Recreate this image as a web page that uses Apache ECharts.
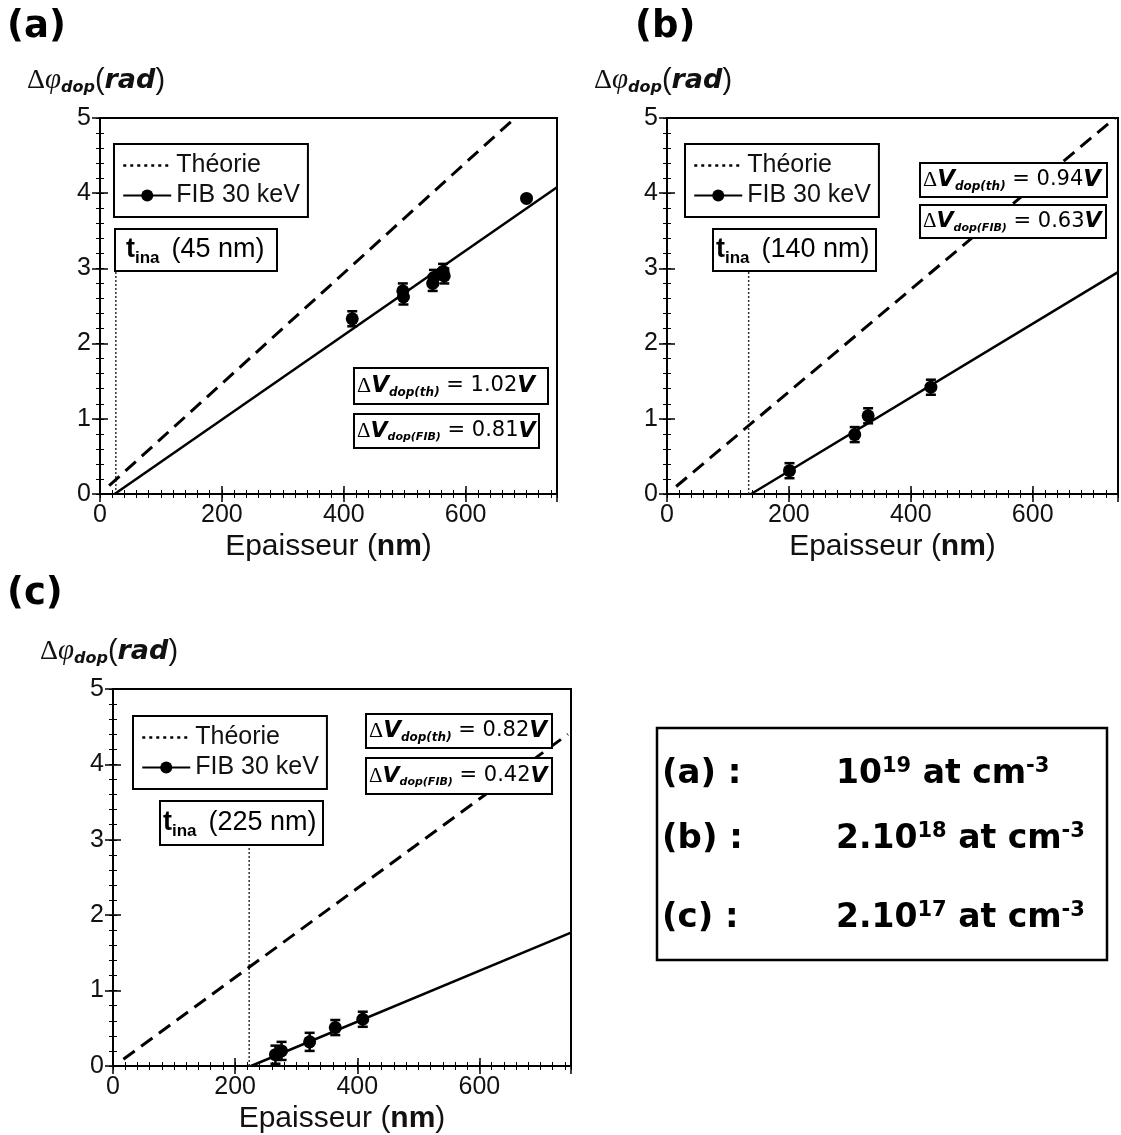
<!DOCTYPE html>
<html><head><meta charset="utf-8">
<script src="https://cdn.jsdelivr.net/npm/echarts@6/dist/echarts.min.js"></script>
<style>html,body{margin:0;padding:0;background:#fff}#c{width:1121px;height:1135px}</style>
</head><body><div id="c"></div>
<script>
// ---------- data ----------
const yTickValues = [0, 1, 2, 3, 4, 5];
const xTickValues = [0, 200, 400, 600];
const seriesNames = ['Théorie', 'FIB 30 keV'];

// panel (a) : 10^19 at cm-3
const aX = [414, 497, 498, 546, 548, 563, 565, 700];
const aY = [2.33, 2.70, 2.62, 2.80, 2.88, 2.96, 2.90, 3.93];
const aErr = [0.1, 0.1, 0.1, 0.1, 0.1, 0.1, 0.1, 0];
const aTheory = [[15, 0.11], [681, 5.0]];
const aFit = [[24, 0], [750, 4.08]];
const aTina = [[26, 0], [26, 2.97]];
const aDVth = '1.02', aDVfib = '0.81', aTinaLabel = '(45 nm)';

// panel (b) : 2.10^18 at cm-3
const bX = [201, 308, 330, 433];
const bY = [0.31, 0.79, 1.04, 1.42];
const bErr = [0.1, 0.1, 0.1, 0.1];
const bTheory = [[15, 0.10], [735, 5.0]];
const bFit = [[138, 0], [740, 2.95]];
const bTina = [[134, 0], [134, 2.97]];
const bDVth = '0.94', bDVfib = '0.63', bTinaLabel = '(140 nm)';

// panel (c) : 2.10^17 at cm-3
const cX = [266, 276, 322, 364, 409];
const cY = [0.15, 0.20, 0.32, 0.51, 0.62];
const cErr = [0.12, 0.12, 0.12, 0.1, 0.1];
const cTheory = [[17, 0.09], [745, 4.40]];
const cFit = [[226, 0], [750, 1.77]];
const cTina = [[223, 0], [223, 2.93]];
const cDVth = '0.82', cDVfib = '0.42', cTinaLabel = '(225 nm)';

const concLabels = ['(a) :', '(b) :', '(c) :'];
const concMant = ['10', '2.10', '2.10'];
const concExp = ['19', '18', '17'];

// ---------- layout ----------
const SANS = "'Liberation Sans', Arial, sans-serif";
const DJV = "'DejaVu Sans', Verdana, sans-serif";
const SERIF = "'Liberation Serif', 'Times New Roman', serif";

const grids = [
  {left: 100, top: 118, width: 457, height: 376, xmax: 750},
  {left: 667, top: 118, width: 451, height: 376, xmax: 740},
  {left: 113, top: 689, width: 458, height: 377, xmax: 750}
];

const xAxes = [], yAxes = [];
grids.forEach((g, gi) => {
  const common = {type: 'value', gridIndex: gi, min: 0, splitLine: {show: false},
    axisLine: {show: false}};
  xAxes.push(Object.assign({}, common, {position: 'bottom', max: g.xmax, interval: 200,
    axisTick: {show: true, inside: true, length: 8, lineStyle: {color: '#000', width: 1.5}},
    axisLabel: {show: true, margin: 9, color: '#111', fontFamily: SANS, fontSize: 25, showMaxLabel: g.xmax % 200 === 0,
      formatter: v => xTickValues.includes(v) ? String(v) : ''},
    name: '{n|Epaisseur (}{b|nm}{n|)}', nameLocation: 'middle', nameGap: 38,
    nameTextStyle: {rich: {n: {fontFamily: SANS, fontSize: 30, color: '#111'}, b: {fontFamily: SANS, fontSize: 30, fontWeight: 'bold', color: '#111'}}}
  }));
  xAxes.push(Object.assign({}, common, {position: 'bottom', max: g.xmax, interval: 20,
    axisTick: {show: true, inside: true, length: 4, lineStyle: {color: '#000', width: 1}}, axisLabel: {show: false}}));
  xAxes.push(Object.assign({}, common, {position: 'top', max: g.xmax, interval: 200,
    axisTick: {show: true, inside: true, length: 8, lineStyle: {color: '#000', width: 1.5}}, axisLabel: {show: false}}));
  xAxes.push(Object.assign({}, common, {position: 'top', max: g.xmax, interval: 20,
    axisTick: {show: true, inside: true, length: 4, lineStyle: {color: '#000', width: 1}}, axisLabel: {show: false}}));
  yAxes.push(Object.assign({}, common, {position: 'left', max: 5, interval: 1,
    axisTick: {show: true, inside: true, length: 8, lineStyle: {color: '#000', width: 1.5}},
    axisLabel: {show: true, margin: 9, color: '#111', fontFamily: SANS, fontSize: 25,
      formatter: v => yTickValues.includes(v) ? String(v) : ''},
    name: '{d|Δ}{p|φ}{s|dop}{n|(}{r|rad}{n|)}', nameLocation: 'end', nameGap: 22,
    nameTextStyle: {align: 'center', padding: [0, 8, 0, 0], rich: {
      d: {fontFamily: SERIF, fontSize: 28, color: '#111'},
      p: {fontFamily: SERIF, fontSize: 29, fontStyle: 'italic', color: '#111'},
      s: {fontFamily: DJV, fontSize: 16, fontWeight: 'bold', fontStyle: 'italic', color: '#111', padding: [15, 0, 0, 0]},
      n: {fontFamily: SANS, fontSize: 29, color: '#111'},
      r: {fontFamily: DJV, fontSize: 27, fontWeight: 'bold', fontStyle: 'italic', color: '#111'}
    }}
  }));
  yAxes.push(Object.assign({}, common, {position: 'left', max: 5, interval: 0.2,
    axisTick: {show: true, inside: true, length: 4, lineStyle: {color: '#000', width: 1}}, axisLabel: {show: false}}));
  yAxes.push(Object.assign({}, common, {position: 'right', max: 5, interval: 1,
    axisTick: {show: true, inside: true, length: 8, lineStyle: {color: '#000', width: 1.5}}, axisLabel: {show: false}}));
  yAxes.push(Object.assign({}, common, {position: 'right', max: 5, interval: 0.2,
    axisTick: {show: true, inside: true, length: 4, lineStyle: {color: '#000', width: 1}}, axisLabel: {show: false}}));
});

function errRender(params, api) {
  const x = api.value(0), y = api.value(1), e = api.value(2);
  if (!e) return null;
  const t = api.coord([x, y + e]), b = api.coord([x, y - e]);
  const hw = 5, st = {stroke: '#000', lineWidth: 2.5};
  return {type: 'group', children: [
    {type: 'line', shape: {x1: t[0], y1: t[1], x2: b[0], y2: b[1]}, style: st},
    {type: 'line', shape: {x1: t[0] - hw, y1: t[1], x2: t[0] + hw, y2: t[1]}, style: st},
    {type: 'line', shape: {x1: b[0] - hw, y1: b[1], x2: b[0] + hw, y2: b[1]}, style: st}
  ]};
}

const panels = [
  {X: aX, Y: aY, E: aErr, th: aTheory, fit: aFit, tina: aTina},
  {X: bX, Y: bY, E: bErr, th: bTheory, fit: bFit, tina: bTina},
  {X: cX, Y: cY, E: cErr, th: cTheory, fit: cFit, tina: cTina}
];

const series = [];
panels.forEach((p, gi) => {
  const xi = gi * 4, yi = gi * 4;
  series.push({name: seriesNames[0], type: 'line', xAxisIndex: xi, yAxisIndex: yi, data: p.th, symbol: 'none',
    itemStyle: {color: '#000'}, lineStyle: {color: '#000', width: 3, type: [14, 8]}, silent: true, z: 3});
  series.push({name: seriesNames[1], type: 'line', xAxisIndex: xi, yAxisIndex: yi, data: p.fit,
    symbol: 'circle', symbolSize: 13, showSymbol: false, itemStyle: {color: '#000'},
    lineStyle: {color: '#000', width: 2.5}, silent: true, z: 3});
  series.push({name: 'tina' + gi, type: 'line', xAxisIndex: xi, yAxisIndex: yi, data: p.tina, symbol: 'none',
    lineStyle: {color: '#333', width: 1.5, type: [2, 2]}, silent: true, z: 2});
  series.push({name: 'err' + gi, type: 'custom', xAxisIndex: xi, yAxisIndex: yi,
    data: p.X.map((x, i) => [x, p.Y[i], p.E[i]]), renderItem: errRender, silent: true, z: 4});
  series.push({name: 'pts' + gi, type: 'scatter', xAxisIndex: xi, yAxisIndex: yi,
    data: p.X.map((x, i) => [x, p.Y[i]]), symbol: 'circle', symbolSize: 13,
    itemStyle: {color: '#000', opacity: 1}, silent: true, z: 5});
});

const legendPos = [{left: 114, top: 144}, {left: 685, top: 144}, {left: 133, top: 716}];
const legends = legendPos.map(lp => ({
  left: lp.left, top: lp.top, orient: 'vertical', padding: [9, 8, 9, 8], itemGap: 5,
  itemWidth: 48, itemHeight: 15, borderColor: '#000', borderWidth: 2, backgroundColor: '#fff',
  selectedMode: false, z: 20,
  textStyle: {fontFamily: SANS, fontSize: 25, color: '#111', lineHeight: 24},
  data: [{name: seriesNames[0], itemStyle: {color: 'rgba(0,0,0,0)', borderWidth: 0, opacity: 0},
          lineStyle: {type: [3, 4], width: 2.5, color: '#000'}},
         {name: seriesNames[1]}]
}));

// ---------- annotation boxes ----------
const dvRichTh = {
  D: {fontFamily: SERIF, fontSize: 22, color: '#111'},
  V: {fontFamily: DJV, fontSize: 23, fontWeight: 'bold', fontStyle: 'italic', color: '#000'},
  s: {fontFamily: DJV, fontSize: 12, fontWeight: 'bold', fontStyle: 'italic', color: '#111', padding: [14, 0, 0, 0]},
  t: {fontFamily: DJV, fontSize: 21, color: '#111'}
};
const dvRichFib = {
  D: {fontFamily: SERIF, fontSize: 21, color: '#111'},
  V: {fontFamily: DJV, fontSize: 22, fontWeight: 'bold', fontStyle: 'italic', color: '#000'},
  s: {fontFamily: DJV, fontSize: 11, fontWeight: 'bold', fontStyle: 'italic', color: '#111', padding: [13, 0, 0, 0]},
  t: {fontFamily: DJV, fontSize: 21, color: '#111'}
};
const tinaRich = {
  t: {fontFamily: SANS, fontSize: 27, fontWeight: 'bold', color: '#000'},
  s: {fontFamily: SANS, fontSize: 17, fontWeight: 'bold', color: '#111', padding: [17, 0, 0, 0]},
  n: {fontFamily: SANS, fontSize: 27, color: '#111', padding: [0, 0, 0, 12]}
};
function box(x, y, w, h, text, rich, tx) {
  return {type: 'group', z: 30, children: [
    {type: 'rect', z: 30, shape: {x: x, y: y, width: w, height: h}, style: {fill: '#fff', stroke: '#000', lineWidth: 2}},
    {type: 'text', z: 31, x: x + tx, y: y + h / 2, style: {text: text, rich: rich, verticalAlign: 'middle', align: 'left'}}
  ]};
}
const dvText = (sub, val) => '{D|Δ}{V|V}{s|dop(' + sub + ')}{t| = ' + val + '}{V|V}';
const tinaText = lab => '{t|t}{s|ina}{n|' + lab + '}';

const graphics = [
  {type: 'text', x: 7, y: 27, style: {text: '(a)', fontFamily: DJV, fontWeight: 'bold', fontSize: 37, fill: '#000', verticalAlign: 'middle'}},
  {type: 'text', x: 635, y: 27, style: {text: '(b)', fontFamily: DJV, fontWeight: 'bold', fontSize: 37, fill: '#000', verticalAlign: 'middle'}},
  {type: 'text', x: 7, y: 594, style: {text: '(c)', fontFamily: DJV, fontWeight: 'bold', fontSize: 37, fill: '#000', verticalAlign: 'middle'}},
  box(115, 229, 162, 42, tinaText(aTinaLabel), tinaRich, 11),
  box(713, 229, 163, 42, tinaText(bTinaLabel), tinaRich, 3),
  box(160, 801, 163, 44, tinaText(cTinaLabel), tinaRich, 3),
  box(354, 368, 194, 36, dvText('th', aDVth), dvRichTh, 3),
  box(354, 414, 185, 34, dvText('FIB', aDVfib), dvRichFib, 3),
  box(920, 163, 187, 34, dvText('th', bDVth), dvRichTh, 3),
  box(920, 205, 186, 33, dvText('FIB', bDVfib), dvRichFib, 3),
  box(366, 714, 186, 34, dvText('th', cDVth), dvRichTh, 3),
  box(366, 758, 186, 36, dvText('FIB', cDVfib), dvRichFib, 3),
  {type: 'rect', z: 30, shape: {x: 657, y: 728, width: 450, height: 232}, style: {fill: '#fff', stroke: '#000', lineWidth: 2.5}}
];
const rowY = [774, 839, 918];
concLabels.forEach((lab, i) => {
  graphics.push({type: 'text', z: 31, x: 662, y: rowY[i], style: {text: lab, fontFamily: DJV, fontWeight: 'bold', fontSize: 34, fill: '#000', verticalAlign: 'middle'}});
  graphics.push({type: 'text', z: 31, x: 836, y: rowY[i], style: {
    text: '{m|' + concMant[i] + '}{e|' + concExp[i] + '}{m| at cm}{e|-3}', verticalAlign: 'middle',
    rich: {m: {fontFamily: DJV, fontWeight: 'bold', fontSize: 33, color: '#000'},
           e: {fontFamily: DJV, fontWeight: 'bold', fontSize: 21, color: '#000', padding: [0, 0, 15, 0]}}}});
});

const chart = echarts.init(document.getElementById('c'), null, {renderer: 'canvas'});
chart.setOption({
  backgroundColor: '#fff',
  animation: false,
  grid: grids.map(g => ({left: g.left, top: g.top, width: g.width, height: g.height, show: true,
    borderColor: '#000', borderWidth: 2, backgroundColor: 'transparent', containLabel: false})),
  xAxis: xAxes,
  yAxis: yAxes,
  legend: legends,
  series: series,
  graphic: graphics
});
</script></body></html>
